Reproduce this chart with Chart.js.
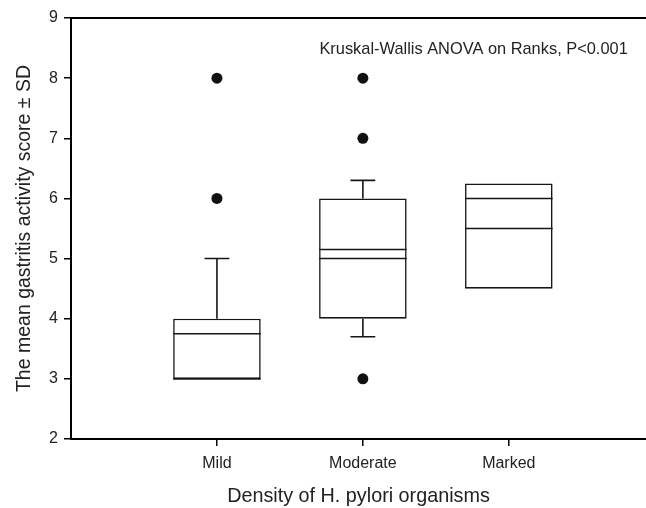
<!DOCTYPE html>
<html>
<head>
<meta charset="utf-8">
<script src="https://cdn.jsdelivr.net/npm/chart.js@4.4.0/dist/chart.umd.min.js"></script>
<style>
  html, body { margin: 0; padding: 0; background: #fff; }
  #wrap { width: 646px; height: 508px; }
</style>
</head>
<body>
<div id="wrap"><canvas id="boxChart"></canvas></div>
<script>
const categories = ['Mild', 'Moderate', 'Marked'];
const q1 = [3, 4, 4.5];
const q3 = [4, 6, 6.25];
const medians = [3, 5, 6];
const means = [3.75, 5.15, 5.5];
const whiskerLow = [null, 3.7, null];
const whiskerHigh = [5, 6.3, null];
const outliers = [[6, 8], [3, 7, 8], []];
const yTicks = [2, 3, 4, 5, 6, 7, 8, 9];

const note = 'Kruskal-Wallis ANOVA on Ranks, P<0.001';
const boxHalf = 0.3;   // half box width, in x units
const capHalf = 0.085; // half whisker cap width
const xMax = 3.94;
const ink = '#161616';

Chart.defaults.font.family = "'Liberation Sans', Arial, sans-serif";
Chart.defaults.color = '#222';

// horizontal segments across each box (median, mean)
function rowLines(vals) {
  const pts = [];
  vals.forEach((v, i) => {
    const c = i + 1;
    pts.push({x: c - boxHalf, y: v}, {x: c + boxHalf, y: v}, {x: c, y: null});
  });
  return pts;
}

// whisker stems + caps
function whiskerLines() {
  const pts = [];
  categories.forEach((_, i) => {
    const c = i + 1;
    if (whiskerHigh[i] != null) {
      pts.push({x: c, y: q3[i]}, {x: c, y: whiskerHigh[i]}, {x: c, y: null});
      pts.push({x: c - capHalf, y: whiskerHigh[i]}, {x: c + capHalf, y: whiskerHigh[i]}, {x: c, y: null});
    }
    if (whiskerLow[i] != null) {
      pts.push({x: c, y: q1[i]}, {x: c, y: whiskerLow[i]}, {x: c, y: null});
      pts.push({x: c - capHalf, y: whiskerLow[i]}, {x: c + capHalf, y: whiskerLow[i]}, {x: c, y: null});
    }
  });
  return pts;
}

const outlierPts = [];
outliers.forEach((arr, i) => arr.forEach(v => outlierPts.push({x: i + 1, y: v})));

const lineStyle = {
  type: 'line',
  borderColor: ink,
  borderWidth: 1.6,
  pointRadius: 0,
  spanGaps: false,
  fill: false,
  order: 1
};

const notePlugin = {
  id: 'note',
  afterDatasetsDraw(chart) {
    const {ctx, scales} = chart;
    ctx.save();
    ctx.font = "16.4px 'Liberation Sans', Arial, sans-serif";
    ctx.fillStyle = '#222';
    ctx.textAlign = 'right';
    ctx.textBaseline = 'middle';
    ctx.fillText(note, scales.x.getPixelForValue(3.815), scales.y.getPixelForValue(8.47));
    ctx.restore();
  }
};

// no extra side padding: the plot runs to the right edge of the picture
function noSidePad(s, h) {
  s.height = h;
  s.paddingLeft = 0;
  s.paddingRight = 0;
}

new Chart('boxChart', {
  type: 'scatter',
  data: {
    datasets: [
      Object.assign({label: 'median', data: rowLines(medians)}, lineStyle),
      Object.assign({label: 'mean', data: rowLines(means)}, lineStyle),
      Object.assign({label: 'whiskers', data: whiskerLines()}, lineStyle),
      {
        label: 'outliers',
        type: 'scatter',
        data: outlierPts,
        pointRadius: 5.5,
        pointBackgroundColor: '#111',
        pointBorderWidth: 0,
        order: 0
      },
      {
        label: 'box',
        type: 'bar',
        data: categories.map((_, i) => ({x: i + 1, y: [q1[i], q3[i]]})),
        backgroundColor: '#fff',
        borderColor: ink,
        borderWidth: 1.6,
        borderSkipped: false,
        barPercentage: 0.6,
        categoryPercentage: 1,
        order: 3
      }
    ]
  },
  options: {
    responsive: true,
    maintainAspectRatio: false,
    animation: false,
    layout: {padding: 0, autoPadding: false},
    plugins: {legend: {display: false}, tooltip: {enabled: false}},
    scales: {
      x: {
        type: 'linear',
        position: 'bottom',
        offset: false,
        min: 0,
        max: xMax,
        afterBuildTicks: s => { s.ticks = categories.map((_, i) => ({value: i + 1})); },
        afterFit: s => noSidePad(s, 69),
        ticks: {
          callback: v => categories[v - 1],
          font: {size: 16},
          padding: 8,
          maxRotation: 0
        },
        grid: {offset: false, drawOnChartArea: false, drawTicks: true, tickLength: 7, color: '#000', lineWidth: 1.5},
        border: {display: true, color: '#000', width: 2},
        title: {display: true, text: 'Density of H. pylori organisms', font: {size: 19.8}, padding: {top: 0, bottom: 0}}
      },
      xTop: {
        type: 'linear',
        position: 'top',
        display: true,
        offset: false,
        min: 0,
        max: xMax,
        afterFit: s => noSidePad(s, 18),
        ticks: {display: false},
        grid: {display: false},
        border: {display: true, color: '#000', width: 2}
      },
      y: {
        min: 2,
        max: 9,
        afterBuildTicks: s => { s.ticks = yTicks.map(v => ({value: v})); },
        afterFit: s => { s.width = 71; },
        ticks: {font: {size: 16}, padding: 6},
        grid: {drawOnChartArea: false, drawTicks: true, tickLength: 7, color: '#000', lineWidth: 1.5},
        border: {display: true, color: '#000', width: 2},
        title: {display: true, text: 'The mean gastritis activity score \u00b1 SD', font: {size: 19.5}, padding: {top: 13, bottom: 0}}
      }
    }
  },
  plugins: [notePlugin]
});
</script>
</body>
</html>
